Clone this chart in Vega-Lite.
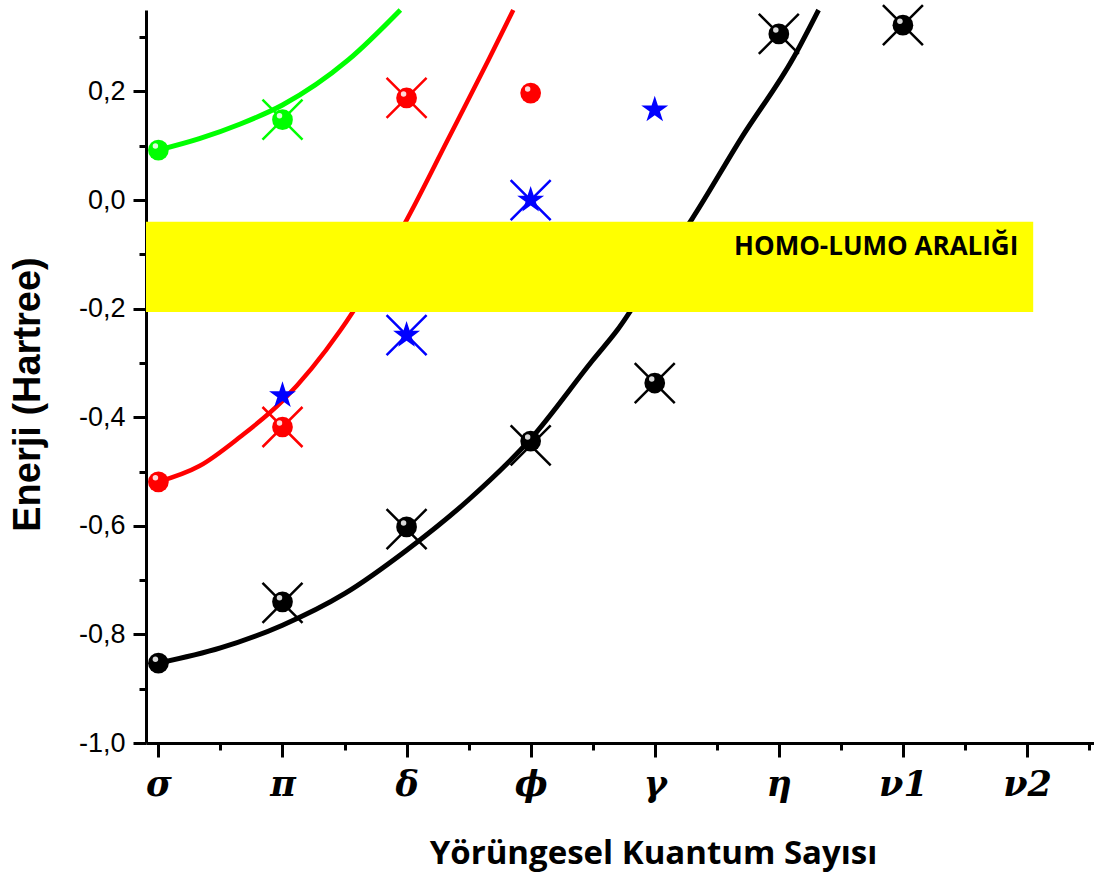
{
  "$schema": "https://vega.github.io/schema/vega-lite/v6.json",
  "width": 948,
  "height": 733,
  "autosize": {"type": "none"},
  "padding": {"left": 146, "top": 10, "right": 0, "bottom": 131},
  "background": "white",
  "config": {"view": {"stroke": null}},
  "datasets": {
    "curves": [
      {"series": "n=1", "x": 0, "y": -0.853}, {"series": "n=1", "x": 0.5, "y": -0.825}, {"series": "n=1", "x": 1, "y": -0.783},
      {"series": "n=1", "x": 1.5, "y": -0.725}, {"series": "n=1", "x": 2, "y": -0.645}, {"series": "n=1", "x": 2.5, "y": -0.552},
      {"series": "n=1", "x": 3, "y": -0.44}, {"series": "n=1", "x": 3.5, "y": -0.295}, {"series": "n=1", "x": 3.7, "y": -0.239},
      {"series": "n=1", "x": 4, "y": -0.135}, {"series": "n=1", "x": 4.3, "y": -0.035}, {"series": "n=1", "x": 4.7, "y": 0.115},
      {"series": "n=1", "x": 5.12, "y": 0.263}, {"series": "n=1", "x": 5.32, "y": 0.35},
      {"series": "n=2", "x": 0, "y": -0.519}, {"series": "n=2", "x": 0.33, "y": -0.49}, {"series": "n=2", "x": 0.66, "y": -0.436},
      {"series": "n=2", "x": 1, "y": -0.37}, {"series": "n=2", "x": 1.47, "y": -0.239}, {"series": "n=2", "x": 2, "y": -0.037},
      {"series": "n=2", "x": 2.33, "y": 0.11}, {"series": "n=2", "x": 2.66, "y": 0.258}, {"series": "n=2", "x": 2.86, "y": 0.35},
      {"series": "n=3", "x": 0, "y": 0.092}, {"series": "n=3", "x": 0.33, "y": 0.113}, {"series": "n=3", "x": 0.66, "y": 0.14},
      {"series": "n=3", "x": 1, "y": 0.175}, {"series": "n=3", "x": 1.53, "y": 0.258}, {"series": "n=3", "x": 1.95, "y": 0.35}
    ],
    "band": [{"x": -0.1, "xe": 7.05, "y": -0.206, "ye": -0.04}],
    "note": [{"x": 6.93, "y": -0.087, "label": "HOMO-LUMO ARALIĞI"}],
    "spheres": [
      {"series": "n=1", "x": 0, "y": -0.853}, {"series": "n=1", "x": 1, "y": -0.74}, {"series": "n=1", "x": 2, "y": -0.602},
      {"series": "n=1", "x": 3, "y": -0.444}, {"series": "n=1", "x": 4, "y": -0.337}, {"series": "n=1", "x": 5, "y": 0.306},
      {"series": "n=1", "x": 6, "y": 0.322},
      {"series": "n=2", "x": 0, "y": -0.519}, {"series": "n=2", "x": 1, "y": -0.418}, {"series": "n=2", "x": 2, "y": 0.188},
      {"series": "n=2", "x": 3, "y": 0.197},
      {"series": "n=3", "x": 0, "y": 0.092}, {"series": "n=3", "x": 1, "y": 0.148}
    ],
    "stars": [
      {"series": "π orbitalleri", "x": 1, "y": -0.36}, {"series": "π orbitalleri", "x": 2, "y": -0.249},
      {"series": "π orbitalleri", "x": 3, "y": 0.0}, {"series": "π orbitalleri", "x": 4, "y": 0.166}
    ],
    "crosses": [
      {"series": "n=1", "x": 1, "y": -0.742}, {"series": "n=1", "x": 2, "y": -0.606}, {"series": "n=1", "x": 3, "y": -0.452},
      {"series": "n=1", "x": 4, "y": -0.337}, {"series": "n=1", "x": 5, "y": 0.306}, {"series": "n=1", "x": 6, "y": 0.322},
      {"series": "n=2", "x": 1, "y": -0.418}, {"series": "n=2", "x": 2, "y": 0.188},
      {"series": "n=3", "x": 1, "y": 0.148},
      {"series": "π orbitalleri", "x": 2, "y": -0.249}, {"series": "π orbitalleri", "x": 3, "y": 0.0}
    ]
  },
  "encoding": {
    "x": {
      "field": "x", "type": "quantitative",
      "scale": {"domain": [-0.1, 7.54], "nice": false, "zero": false},
      "axis": {
        "title": "Yörüngesel Kuantum Sayısı",
        "values": [0, 0.5, 1, 1.5, 2, 2.5, 3, 3.5, 4, 4.5, 5, 5.5, 6, 6.5, 7, 7.5],
        "labelExpr": "['σ','π','δ','ϕ','γ','η','ν1','ν2'][datum.value] || ''",
        "grid": false,
        "domainColor": "black", "domainWidth": 3,
        "tickColor": "black", "tickWidth": 3,
        "tickSize": {"condition": {"test": "datum.value % 1 === 0", "value": 14}, "value": 7},
        "labelFont": "DejaVu Serif", "labelFontStyle": "italic", "labelFontWeight": "bold",
        "labelFontSize": 35, "labelColor": "black", "labelPadding": 10,
        "labelFlush": false, "labelOverlap": false,
        "titleFont": "Open Sans", "titleFontSize": 33, "titleFontWeight": "bold", "titleColor": "black",
        "titleX": 507, "titleY": 110, "titleBaseline": "middle", "titleAlign": "center"
      }
    },
    "y": {
      "field": "y", "type": "quantitative",
      "scale": {"domain": [-1, 0.35], "nice": false, "zero": false},
      "axis": {
        "title": "Enerji (Hartree)",
        "values": [-1, -0.9, -0.8, -0.7, -0.6, -0.5, -0.4, -0.3, -0.2, -0.1, 0, 0.1, 0.2, 0.3],
        "labelExpr": "abs(round(datum.value*10)) % 2 === 0 ? (datum.value < 0 ? '-' : '') + replace(format(abs(datum.value), '.1f'), '.', ',') : ''",
        "grid": false,
        "domainColor": "black", "domainWidth": 3,
        "tickColor": "black", "tickWidth": 3,
        "tickSize": {"condition": {"test": "abs(round(datum.value*10)) % 2 === 0", "value": 13}, "value": 7},
        "labelFont": "Liberation Sans", "labelFontSize": 27, "labelColor": "black", "labelPadding": 8,
        "labelFlush": false, "labelOverlap": false,
        "titleFont": "Liberation Sans", "titleFontSize": 38, "titleFontWeight": "bold", "titleColor": "black",
        "titleX": -118, "titleY": 384, "titleAngle": -90, "titleBaseline": "middle", "titleAlign": "center"
      }
    }
  },
  "layer": [
    {
      "data": {"name": "curves"},
      "transform": [{"filter": "datum.series === 'n=1'"}],
      "mark": {"type": "line", "strokeWidth": 5, "interpolate": "monotone", "color": "#000000"}
    },
    {
      "data": {"name": "curves"},
      "transform": [{"filter": "datum.series === 'n=2'"}],
      "mark": {"type": "line", "strokeWidth": 4.5, "interpolate": "monotone", "color": "#ff0000"}
    },
    {
      "data": {"name": "curves"},
      "transform": [{"filter": "datum.series === 'n=3'"}],
      "mark": {"type": "line", "strokeWidth": 5, "interpolate": "monotone", "color": "#00ff00"}
    },
    {
      "data": {"name": "band"},
      "mark": {"type": "rect", "color": "#ffff00"},
      "encoding": {"x2": {"field": "xe"}, "y2": {"field": "ye"}}
    },
    {
      "data": {"name": "note"},
      "mark": {"type": "text", "align": "right", "baseline": "middle", "font": "Open Sans", "fontWeight": "bold", "fontSize": 26, "color": "black"},
      "encoding": {"text": {"field": "label"}}
    },
    {
      "data": {"name": "crosses"},
      "mark": {"type": "point", "shape": "M-1,-1L1,1M1,-1L-1,1", "filled": false, "strokeWidth": 2.5, "size": 1600, "opacity": 1},
      "encoding": {
        "stroke": {"field": "series", "type": "nominal", "legend": null,
          "scale": {"domain": ["n=1", "n=2", "n=3", "π orbitalleri"], "range": ["#000000", "#ff0000", "#00ff00", "#0000ff"]}}
      }
    },
    {
      "data": {"name": "stars"},
      "mark": {"type": "point", "shape": "M0,-1L0.225,-0.309L0.951,-0.309L0.363,0.118L0.588,0.809L0,0.382L-0.588,0.809L-0.363,0.118L-0.951,-0.309L-0.225,-0.309Z", "filled": true, "size": 800, "opacity": 1, "strokeWidth": 0, "color": "#0000ff"}
    },
    {
      "data": {"name": "spheres"},
      "mark": {"type": "point", "shape": "circle", "filled": true, "size": 430, "opacity": 1, "strokeWidth": 0},
      "encoding": {
        "color": {"field": "series", "type": "nominal",
          "scale": {"domain": ["n=1", "n=2", "n=3", "π orbitalleri"], "range": ["#000000", "#ff0000", "#00ff00", "#0000ff"]},
          "legend": {
            "title": ["σ orbitalleri", "--------------------"],
            "orient": "none", "legendX": 682, "legendY": 395,
            "fillColor": "white", "strokeColor": "black", "padding": 18,
            "titleFont": "Open Sans", "titleFontSize": 32, "titleFontWeight": "bold", "titleColor": "black",
            "titleAnchor": "middle", "titleAlign": "center", "titleLineHeight": 48, "titlePadding": 18, "titleLimit": 500,
            "labelFont": "Liberation Sans", "labelFontSize": 30, "labelColor": "black", "labelOffset": 24, "labelLimit": 500,
            "symbolOffset": 24, "symbolSize": 530, "symbolStrokeWidth": 0, "symbolType": "circle", "rowPadding": 18
          }
        }
      }
    },
    {
      "data": {"name": "spheres"},
      "mark": {"type": "point", "shape": "circle", "filled": true, "size": 30, "opacity": 0.85, "strokeWidth": 0, "color": "white", "xOffset": -3, "yOffset": -4}
    }
  ]
}
